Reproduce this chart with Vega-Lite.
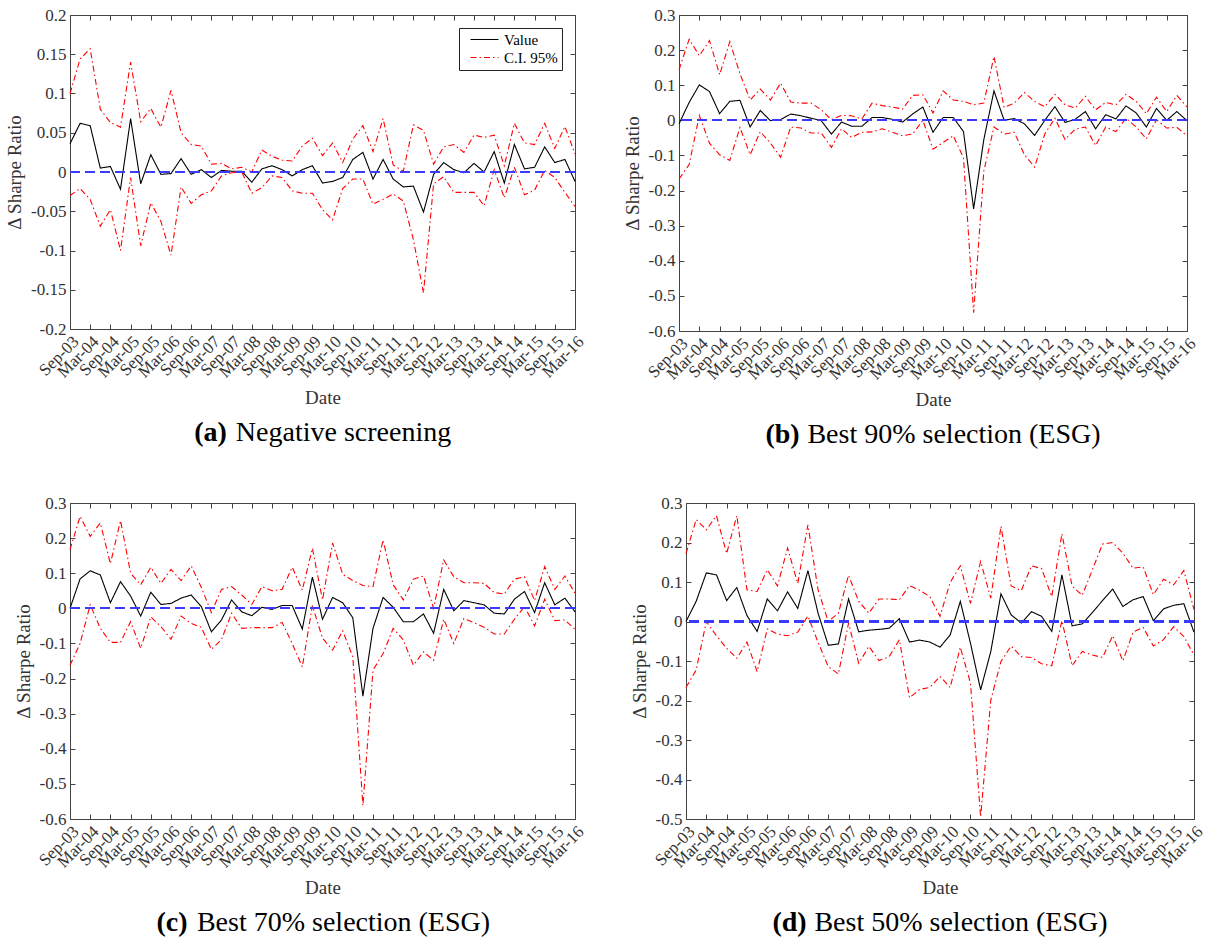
{
"$schema":"https://vega.github.io/schema/vega-lite/v6.json",
"background":"white",
"padding":{"left":5,"top":5,"right":5,"bottom":5},
"config":{
 "font":"Liberation Serif",
 "view":{"stroke":"#444","strokeWidth":1},
 "axis":{"labelFont":"Liberation Serif","labelFontSize":17,"labelColor":"#333","titleFont":"Liberation Serif","titleFontSize":19,"titleFontWeight":"normal","titleColor":"#333","domain":false,"grid":false,"ticks":true,"tickSize":-5,"tickColor":"#444","tickWidth":1,"labelPadding":9,"labelOverlap":false},
 "legend":{"labelFont":"Liberation Serif","labelFontSize":15,"labelColor":"black"},
 "title":{"font":"Liberation Serif","fontSize":28,"fontWeight":"bold","color":"black","orient":"bottom","anchor":"middle","offset":12,"subtitleFont":"Liberation Serif","subtitleFontSize":28,"subtitleFontWeight":"normal","subtitleColor":"black","subtitlePadding":-28}
},
"datasets":{"d":[
{"p":"a","t":"Sep-03","v":0.036,"hi":0.100,"lo":-0.030},
{"p":"a","t":"Dec-03","v":0.062,"hi":0.144,"lo":-0.021},
{"p":"a","t":"Mar-04","v":0.059,"hi":0.157,"lo":-0.035},
{"p":"a","t":"Jun-04","v":0.005,"hi":0.080,"lo":-0.069},
{"p":"a","t":"Sep-04","v":0.007,"hi":0.063,"lo":-0.048},
{"p":"a","t":"Dec-04","v":-0.022,"hi":0.057,"lo":-0.100},
{"p":"a","t":"Mar-05","v":0.068,"hi":0.140,"lo":-0.007},
{"p":"a","t":"Jun-05","v":-0.015,"hi":0.064,"lo":-0.094},
{"p":"a","t":"Sep-05","v":0.022,"hi":0.081,"lo":-0.039},
{"p":"a","t":"Dec-05","v":-0.003,"hi":0.057,"lo":-0.063},
{"p":"a","t":"Mar-06","v":-0.002,"hi":0.104,"lo":-0.106},
{"p":"a","t":"Jun-06","v":0.017,"hi":0.050,"lo":-0.019},
{"p":"a","t":"Sep-06","v":-0.003,"hi":0.035,"lo":-0.040},
{"p":"a","t":"Dec-06","v":0.003,"hi":0.033,"lo":-0.029},
{"p":"a","t":"Mar-07","v":-0.007,"hi":0.010,"lo":-0.024},
{"p":"a","t":"Jun-07","v":0.002,"hi":0.011,"lo":-0.005},
{"p":"a","t":"Sep-07","v":0.001,"hi":0.004,"lo":-0.001},
{"p":"a","t":"Dec-07","v":0.001,"hi":0.006,"lo":0.000},
{"p":"a","t":"Mar-08","v":-0.013,"hi":0.000,"lo":-0.027},
{"p":"a","t":"Jun-08","v":0.004,"hi":0.028,"lo":-0.020},
{"p":"a","t":"Sep-08","v":0.008,"hi":0.020,"lo":-0.005},
{"p":"a","t":"Dec-08","v":0.003,"hi":0.015,"lo":-0.007},
{"p":"a","t":"Mar-09","v":-0.005,"hi":0.014,"lo":-0.024},
{"p":"a","t":"Jun-09","v":0.003,"hi":0.033,"lo":-0.027},
{"p":"a","t":"Sep-09","v":0.008,"hi":0.043,"lo":-0.027},
{"p":"a","t":"Dec-09","v":-0.014,"hi":0.021,"lo":-0.048},
{"p":"a","t":"Mar-10","v":-0.012,"hi":0.037,"lo":-0.061},
{"p":"a","t":"Jun-10","v":-0.007,"hi":0.012,"lo":-0.021},
{"p":"a","t":"Sep-10","v":0.016,"hi":0.042,"lo":-0.009},
{"p":"a","t":"Dec-10","v":0.025,"hi":0.059,"lo":-0.009},
{"p":"a","t":"Mar-11","v":-0.009,"hi":0.026,"lo":-0.041},
{"p":"a","t":"Jun-11","v":0.016,"hi":0.068,"lo":-0.035},
{"p":"a","t":"Sep-11","v":-0.009,"hi":0.009,"lo":-0.028},
{"p":"a","t":"Dec-11","v":-0.019,"hi":0.001,"lo":-0.037},
{"p":"a","t":"Mar-12","v":-0.018,"hi":0.060,"lo":-0.086},
{"p":"a","t":"Jun-12","v":-0.051,"hi":0.053,"lo":-0.154},
{"p":"a","t":"Sep-12","v":-0.003,"hi":0.010,"lo":-0.015},
{"p":"a","t":"Dec-12","v":0.012,"hi":0.032,"lo":-0.006},
{"p":"a","t":"Mar-13","v":0.003,"hi":0.035,"lo":-0.026},
{"p":"a","t":"Jun-13","v":-0.001,"hi":0.025,"lo":-0.026},
{"p":"a","t":"Sep-13","v":0.011,"hi":0.047,"lo":-0.026},
{"p":"a","t":"Dec-13","v":0.000,"hi":0.044,"lo":-0.043},
{"p":"a","t":"Mar-14","v":0.026,"hi":0.047,"lo":0.003},
{"p":"a","t":"Jun-14","v":-0.014,"hi":0.008,"lo":-0.033},
{"p":"a","t":"Sep-14","v":0.035,"hi":0.062,"lo":0.006},
{"p":"a","t":"Dec-14","v":0.004,"hi":0.037,"lo":-0.029},
{"p":"a","t":"Mar-15","v":0.006,"hi":0.035,"lo":-0.023},
{"p":"a","t":"Jun-15","v":0.032,"hi":0.062,"lo":0.002},
{"p":"a","t":"Sep-15","v":0.012,"hi":0.030,"lo":-0.007},
{"p":"a","t":"Dec-15","v":0.016,"hi":0.058,"lo":-0.026},
{"p":"a","t":"Mar-16","v":-0.012,"hi":0.023,"lo":-0.044},
{"p":"b","t":"Sep-03","v":-0.010,"hi":0.144,"lo":-0.167},
{"p":"b","t":"Dec-03","v":0.051,"hi":0.231,"lo":-0.126},
{"p":"b","t":"Mar-04","v":0.101,"hi":0.184,"lo":0.014},
{"p":"b","t":"Jun-04","v":0.082,"hi":0.227,"lo":-0.065},
{"p":"b","t":"Sep-04","v":0.019,"hi":0.130,"lo":-0.098},
{"p":"b","t":"Dec-04","v":0.054,"hi":0.224,"lo":-0.114},
{"p":"b","t":"Mar-05","v":0.057,"hi":0.133,"lo":-0.020},
{"p":"b","t":"Jun-05","v":-0.019,"hi":0.058,"lo":-0.098},
{"p":"b","t":"Sep-05","v":0.028,"hi":0.089,"lo":-0.032},
{"p":"b","t":"Dec-05","v":-0.001,"hi":0.058,"lo":-0.065},
{"p":"b","t":"Mar-06","v":0.002,"hi":0.106,"lo":-0.105},
{"p":"b","t":"Jun-06","v":0.018,"hi":0.052,"lo":-0.019},
{"p":"b","t":"Sep-06","v":0.013,"hi":0.049,"lo":-0.022},
{"p":"b","t":"Dec-06","v":0.006,"hi":0.049,"lo":-0.036},
{"p":"b","t":"Mar-07","v":-0.001,"hi":0.030,"lo":-0.036},
{"p":"b","t":"Jun-07","v":-0.039,"hi":0.002,"lo":-0.077},
{"p":"b","t":"Sep-07","v":-0.005,"hi":0.014,"lo":-0.024},
{"p":"b","t":"Dec-07","v":-0.017,"hi":0.013,"lo":-0.049},
{"p":"b","t":"Mar-08","v":-0.017,"hi":0.004,"lo":-0.034},
{"p":"b","t":"Jun-08","v":0.008,"hi":0.049,"lo":-0.033},
{"p":"b","t":"Sep-08","v":0.008,"hi":0.042,"lo":-0.024},
{"p":"b","t":"Dec-08","v":0.003,"hi":0.038,"lo":-0.034},
{"p":"b","t":"Mar-09","v":-0.005,"hi":0.032,"lo":-0.044},
{"p":"b","t":"Jun-09","v":0.018,"hi":0.071,"lo":-0.039},
{"p":"b","t":"Sep-09","v":0.038,"hi":0.073,"lo":0.000},
{"p":"b","t":"Dec-09","v":-0.034,"hi":0.021,"lo":-0.082},
{"p":"b","t":"Mar-10","v":0.008,"hi":0.084,"lo":-0.063},
{"p":"b","t":"Jun-10","v":0.008,"hi":0.058,"lo":-0.044},
{"p":"b","t":"Sep-10","v":-0.032,"hi":0.054,"lo":-0.107},
{"p":"b","t":"Dec-10","v":-0.252,"hi":0.044,"lo":-0.548},
{"p":"b","t":"Mar-11","v":-0.055,"hi":0.049,"lo":-0.145},
{"p":"b","t":"Jun-11","v":0.084,"hi":0.182,"lo":-0.019},
{"p":"b","t":"Sep-11","v":0.000,"hi":0.037,"lo":-0.039},
{"p":"b","t":"Dec-11","v":0.005,"hi":0.049,"lo":-0.034},
{"p":"b","t":"Mar-12","v":-0.010,"hi":0.079,"lo":-0.098},
{"p":"b","t":"Jun-12","v":-0.043,"hi":0.054,"lo":-0.133},
{"p":"b","t":"Sep-12","v":0.000,"hi":0.039,"lo":-0.039},
{"p":"b","t":"Dec-12","v":0.039,"hi":0.074,"lo":0.006},
{"p":"b","t":"Mar-13","v":-0.006,"hi":0.044,"lo":-0.055},
{"p":"b","t":"Jun-13","v":0.003,"hi":0.035,"lo":-0.025},
{"p":"b","t":"Sep-13","v":0.025,"hi":0.068,"lo":-0.019},
{"p":"b","t":"Dec-13","v":-0.024,"hi":0.030,"lo":-0.072},
{"p":"b","t":"Mar-14","v":0.016,"hi":0.051,"lo":-0.019},
{"p":"b","t":"Jun-14","v":0.004,"hi":0.044,"lo":-0.032},
{"p":"b","t":"Sep-14","v":0.041,"hi":0.074,"lo":0.006},
{"p":"b","t":"Dec-14","v":0.021,"hi":0.054,"lo":-0.019},
{"p":"b","t":"Mar-15","v":-0.019,"hi":0.019,"lo":-0.053},
{"p":"b","t":"Jun-15","v":0.034,"hi":0.066,"lo":0.002},
{"p":"b","t":"Sep-15","v":0.000,"hi":0.025,"lo":-0.022},
{"p":"b","t":"Dec-15","v":0.025,"hi":0.071,"lo":-0.020},
{"p":"b","t":"Mar-16","v":-0.001,"hi":0.038,"lo":-0.044},
{"p":"c","t":"Sep-03","v":0.000,"hi":0.167,"lo":-0.162},
{"p":"c","t":"Dec-03","v":0.084,"hi":0.262,"lo":-0.100},
{"p":"c","t":"Mar-04","v":0.107,"hi":0.205,"lo":0.010},
{"p":"c","t":"Jun-04","v":0.095,"hi":0.243,"lo":-0.057},
{"p":"c","t":"Sep-04","v":0.016,"hi":0.127,"lo":-0.097},
{"p":"c","t":"Dec-04","v":0.076,"hi":0.250,"lo":-0.097},
{"p":"c","t":"Mar-05","v":0.035,"hi":0.100,"lo":-0.038},
{"p":"c","t":"Jun-05","v":-0.022,"hi":0.067,"lo":-0.114},
{"p":"c","t":"Sep-05","v":0.046,"hi":0.117,"lo":-0.024},
{"p":"c","t":"Dec-05","v":0.011,"hi":0.071,"lo":-0.052},
{"p":"c","t":"Mar-06","v":0.014,"hi":0.111,"lo":-0.088},
{"p":"c","t":"Jun-06","v":0.029,"hi":0.079,"lo":-0.022},
{"p":"c","t":"Sep-06","v":0.038,"hi":0.121,"lo":-0.043},
{"p":"c","t":"Dec-06","v":0.005,"hi":0.060,"lo":-0.054},
{"p":"c","t":"Mar-07","v":-0.067,"hi":-0.012,"lo":-0.117},
{"p":"c","t":"Jun-07","v":-0.033,"hi":0.054,"lo":-0.089},
{"p":"c","t":"Sep-07","v":0.024,"hi":0.062,"lo":-0.014},
{"p":"c","t":"Dec-07","v":-0.010,"hi":0.038,"lo":-0.057},
{"p":"c","t":"Mar-08","v":-0.021,"hi":0.011,"lo":-0.055},
{"p":"c","t":"Jun-08","v":0.003,"hi":0.062,"lo":-0.055},
{"p":"c","t":"Sep-08","v":-0.003,"hi":0.050,"lo":-0.055},
{"p":"c","t":"Dec-08","v":0.008,"hi":0.054,"lo":-0.040},
{"p":"c","t":"Mar-09","v":0.008,"hi":0.117,"lo":-0.100},
{"p":"c","t":"Jun-09","v":-0.059,"hi":0.052,"lo":-0.167},
{"p":"c","t":"Sep-09","v":0.089,"hi":0.171,"lo":0.008},
{"p":"c","t":"Dec-09","v":-0.031,"hi":0.024,"lo":-0.085},
{"p":"c","t":"Mar-10","v":0.031,"hi":0.186,"lo":-0.119},
{"p":"c","t":"Jun-10","v":0.016,"hi":0.097,"lo":-0.064},
{"p":"c","t":"Sep-10","v":-0.027,"hi":0.079,"lo":-0.138},
{"p":"c","t":"Dec-10","v":-0.250,"hi":0.065,"lo":-0.562},
{"p":"c","t":"Mar-11","v":-0.057,"hi":0.062,"lo":-0.176},
{"p":"c","t":"Jun-11","v":0.031,"hi":0.195,"lo":-0.129},
{"p":"c","t":"Sep-11","v":0.003,"hi":0.067,"lo":-0.057},
{"p":"c","t":"Dec-11","v":-0.038,"hi":0.024,"lo":-0.090},
{"p":"c","t":"Mar-12","v":-0.038,"hi":0.083,"lo":-0.162},
{"p":"c","t":"Jun-12","v":-0.016,"hi":0.092,"lo":-0.124},
{"p":"c","t":"Sep-12","v":-0.071,"hi":0.000,"lo":-0.148},
{"p":"c","t":"Dec-12","v":0.054,"hi":0.138,"lo":-0.031},
{"p":"c","t":"Mar-13","v":-0.007,"hi":0.090,"lo":-0.100},
{"p":"c","t":"Jun-13","v":0.022,"hi":0.073,"lo":-0.029},
{"p":"c","t":"Sep-13","v":0.016,"hi":0.073,"lo":-0.041},
{"p":"c","t":"Dec-13","v":0.010,"hi":0.071,"lo":-0.054},
{"p":"c","t":"Mar-14","v":-0.014,"hi":0.045,"lo":-0.073},
{"p":"c","t":"Jun-14","v":-0.016,"hi":0.041,"lo":-0.073},
{"p":"c","t":"Sep-14","v":0.026,"hi":0.083,"lo":-0.031},
{"p":"c","t":"Dec-14","v":0.048,"hi":0.090,"lo":0.005},
{"p":"c","t":"Mar-15","v":-0.012,"hi":0.022,"lo":-0.050},
{"p":"c","t":"Jun-15","v":0.073,"hi":0.119,"lo":0.026},
{"p":"c","t":"Sep-15","v":0.010,"hi":0.054,"lo":-0.035},
{"p":"c","t":"Dec-15","v":0.029,"hi":0.092,"lo":-0.033},
{"p":"c","t":"Mar-16","v":-0.010,"hi":0.043,"lo":-0.060},
{"p":"d","t":"Sep-03","v":0.000,"hi":0.172,"lo":-0.167},
{"p":"d","t":"Dec-03","v":0.051,"hi":0.258,"lo":-0.123},
{"p":"d","t":"Mar-04","v":0.123,"hi":0.232,"lo":0.000},
{"p":"d","t":"Jun-04","v":0.118,"hi":0.268,"lo":-0.036},
{"p":"d","t":"Sep-04","v":0.053,"hi":0.172,"lo":-0.068},
{"p":"d","t":"Dec-04","v":0.086,"hi":0.268,"lo":-0.093},
{"p":"d","t":"Mar-05","v":0.015,"hi":0.080,"lo":-0.052},
{"p":"d","t":"Jun-05","v":-0.025,"hi":0.076,"lo":-0.127},
{"p":"d","t":"Sep-05","v":0.057,"hi":0.131,"lo":-0.019},
{"p":"d","t":"Dec-05","v":0.027,"hi":0.090,"lo":-0.032},
{"p":"d","t":"Mar-06","v":0.075,"hi":0.186,"lo":-0.036},
{"p":"d","t":"Jun-06","v":0.033,"hi":0.096,"lo":-0.027},
{"p":"d","t":"Sep-06","v":0.129,"hi":0.245,"lo":0.014},
{"p":"d","t":"Dec-06","v":0.021,"hi":0.080,"lo":-0.053},
{"p":"d","t":"Mar-07","v":-0.060,"hi":0.000,"lo":-0.114},
{"p":"d","t":"Jun-07","v":-0.057,"hi":0.021,"lo":-0.133},
{"p":"d","t":"Sep-07","v":0.057,"hi":0.117,"lo":-0.004},
{"p":"d","t":"Dec-07","v":-0.026,"hi":0.051,"lo":-0.106},
{"p":"d","t":"Mar-08","v":-0.022,"hi":0.021,"lo":-0.063},
{"p":"d","t":"Jun-08","v":-0.020,"hi":0.057,"lo":-0.099},
{"p":"d","t":"Sep-08","v":-0.017,"hi":0.057,"lo":-0.089},
{"p":"d","t":"Dec-08","v":0.007,"hi":0.055,"lo":-0.046},
{"p":"d","t":"Mar-09","v":-0.052,"hi":0.091,"lo":-0.193},
{"p":"d","t":"Jun-09","v":-0.047,"hi":0.079,"lo":-0.172},
{"p":"d","t":"Sep-09","v":-0.052,"hi":0.063,"lo":-0.167},
{"p":"d","t":"Dec-09","v":-0.065,"hi":0.013,"lo":-0.139},
{"p":"d","t":"Mar-10","v":-0.034,"hi":0.099,"lo":-0.167},
{"p":"d","t":"Jun-10","v":0.051,"hi":0.141,"lo":-0.065},
{"p":"d","t":"Sep-10","v":-0.055,"hi":0.046,"lo":-0.156},
{"p":"d","t":"Dec-10","v":-0.173,"hi":0.152,"lo":-0.495},
{"p":"d","t":"Mar-11","v":-0.076,"hi":0.059,"lo":-0.199},
{"p":"d","t":"Jun-11","v":0.070,"hi":0.241,"lo":-0.101},
{"p":"d","t":"Sep-11","v":0.017,"hi":0.090,"lo":-0.062},
{"p":"d","t":"Dec-11","v":-0.004,"hi":0.078,"lo":-0.089},
{"p":"d","t":"Mar-12","v":0.025,"hi":0.141,"lo":-0.091},
{"p":"d","t":"Jun-12","v":0.013,"hi":0.134,"lo":-0.107},
{"p":"d","t":"Sep-12","v":-0.025,"hi":0.063,"lo":-0.112},
{"p":"d","t":"Dec-12","v":0.118,"hi":0.222,"lo":0.002},
{"p":"d","t":"Mar-13","v":-0.011,"hi":0.090,"lo":-0.112},
{"p":"d","t":"Jun-13","v":-0.006,"hi":0.066,"lo":-0.076},
{"p":"d","t":"Sep-13","v":0.023,"hi":0.131,"lo":-0.085},
{"p":"d","t":"Dec-13","v":0.053,"hi":0.196,"lo":-0.091},
{"p":"d","t":"Mar-14","v":0.082,"hi":0.200,"lo":-0.036},
{"p":"d","t":"Jun-14","v":0.038,"hi":0.173,"lo":-0.100},
{"p":"d","t":"Sep-14","v":0.055,"hi":0.135,"lo":-0.027},
{"p":"d","t":"Dec-14","v":0.063,"hi":0.138,"lo":-0.015},
{"p":"d","t":"Mar-15","v":0.002,"hi":0.068,"lo":-0.062},
{"p":"d","t":"Jun-15","v":0.032,"hi":0.107,"lo":-0.046},
{"p":"d","t":"Sep-15","v":0.041,"hi":0.093,"lo":-0.013},
{"p":"d","t":"Dec-15","v":0.045,"hi":0.129,"lo":-0.038},
{"p":"d","t":"Mar-16","v":-0.027,"hi":0.030,"lo":-0.085}
]},
"data":{"name":"d"},
"spacing":43,
"resolve":{"scale":{"color":"independent","strokeDash":"independent"},"legend":{"color":"independent","strokeDash":"independent"}},
"vconcat":[
{"hconcat":[
{"width":505,"height":314,
 "title":{"text":"(a)\u00a0\u00a0\u00a0\u00a0\u00a0\u00a0\u00a0\u00a0\u00a0\u00a0\u00a0\u00a0\u00a0\u00a0\u00a0\u00a0\u00a0\u00a0\u00a0\u00a0\u00a0\u00a0\u00a0\u00a0\u00a0\u00a0\u00a0\u00a0\u00a0\u00a0\u00a0\u00a0\u200b","subtitle":"\u200b\u00a0\u00a0\u00a0\u00a0\u00a0\u00a0Negative screening"},
 "layer":[
  {"transform":[{"filter":"datum.p=='a'"},{"fold":["v","hi","lo"],"as":["k","y"]},{"calculate":"datum.k=='v'?'Value':'C.I. 95%'","as":"s"}],
   "mark":{"type":"line","strokeWidth":1.1},
   "encoding":{
    "x":{"field":"t","type":"ordinal","scale":{"type":"point","padding":0,"domain":["Sep-03","Dec-03","Mar-04","Jun-04","Sep-04","Dec-04","Mar-05","Jun-05","Sep-05","Dec-05","Mar-06","Jun-06","Sep-06","Dec-06","Mar-07","Jun-07","Sep-07","Dec-07","Mar-08","Jun-08","Sep-08","Dec-08","Mar-09","Jun-09","Sep-09","Dec-09","Mar-10","Jun-10","Sep-10","Dec-10","Mar-11","Jun-11","Sep-11","Dec-11","Mar-12","Jun-12","Sep-12","Dec-12","Mar-13","Jun-13","Sep-13","Dec-13","Mar-14","Jun-14","Sep-14","Dec-14","Mar-15","Jun-15","Sep-15","Dec-15","Mar-16"]},
     "axis":{"values":["Sep-03","Mar-04","Sep-04","Mar-05","Sep-05","Mar-06","Sep-06","Mar-07","Sep-07","Mar-08","Sep-08","Mar-09","Sep-09","Mar-10","Sep-10","Mar-11","Sep-11","Mar-12","Sep-12","Mar-13","Sep-13","Mar-14","Sep-14","Mar-15","Sep-15","Mar-16"],"labelAngle":-45,"title":"Date","titlePadding":8}},
    "y":{"field":"y","type":"quantitative","scale":{"domain":[-0.2,0.2],"nice":false,"zero":false},"axis":{"values":[-0.2,-0.15,-0.1,-0.05,0,0.05,0.1,0.15,0.2],"labelExpr":"''+datum.value","title":"Δ Sharpe Ratio","titlePadding":6}},
    "color":{"field":"s","type":"nominal","scale":{"domain":["Value","C.I. 95%"],"range":["black","red"]},"legend":{"title":null,"orient":"top-right","offset":13,"strokeColor":"#222","fillColor":"white","padding":4,"symbolType":"M0,0H8","symbolSize":49,"symbolStrokeWidth":1.2,"rowPadding":2,"labelOffset":26}},
    "strokeDash":{"field":"s","type":"nominal","scale":{"domain":["Value","C.I. 95%"],"range":[[1,0],[6,3,1.5,3]]},"legend":{"title":null,"orient":"top-right","offset":13,"strokeColor":"#222","fillColor":"white","padding":4,"symbolType":"M0,0H8","symbolSize":49,"symbolStrokeWidth":1.2,"rowPadding":2,"labelOffset":26}},
    "detail":{"field":"k"}}},
  {"mark":{"type":"rule","color":"#3b3bff","strokeDash":[10,5],"strokeWidth":1.5,"opacity":0.75},"encoding":{"y":{"datum":0,"type":"quantitative","axis":null}}},
  {"transform":[{"filter":"datum.p=='a'"}],"mark":{"type":"point","opacity":0},
   "encoding":{
    "x":{"field":"t","type":"ordinal","scale":{"type":"point","padding":0,"domain":["Sep-03","Dec-03","Mar-04","Jun-04","Sep-04","Dec-04","Mar-05","Jun-05","Sep-05","Dec-05","Mar-06","Jun-06","Sep-06","Dec-06","Mar-07","Jun-07","Sep-07","Dec-07","Mar-08","Jun-08","Sep-08","Dec-08","Mar-09","Jun-09","Sep-09","Dec-09","Mar-10","Jun-10","Sep-10","Dec-10","Mar-11","Jun-11","Sep-11","Dec-11","Mar-12","Jun-12","Sep-12","Dec-12","Mar-13","Jun-13","Sep-13","Dec-13","Mar-14","Jun-14","Sep-14","Dec-14","Mar-15","Jun-15","Sep-15","Dec-15","Mar-16"]},"axis":{"orient":"top","values":["Sep-03","Mar-04","Sep-04","Mar-05","Sep-05","Mar-06","Sep-06","Mar-07","Sep-07","Mar-08","Sep-08","Mar-09","Sep-09","Mar-10","Sep-10","Mar-11","Sep-11","Mar-12","Sep-12","Mar-13","Sep-13","Mar-14","Sep-14","Mar-15","Sep-15","Mar-16"],"labels":false,"title":null}},
    "y":{"field":"v","type":"quantitative","scale":{"domain":[-0.2,0.2],"nice":false,"zero":false},"axis":{"orient":"right","values":[-0.2,-0.15,-0.1,-0.05,0,0.05,0.1,0.15,0.2],"labels":false,"title":null}}}}
 ],
 "resolve":{"axis":{"x":"independent","y":"independent"}}},
{"width":508,"height":316,
 "title":{"text":"(b)\u00a0\u00a0\u00a0\u00a0\u00a0\u00a0\u00a0\u00a0\u00a0\u00a0\u00a0\u00a0\u00a0\u00a0\u00a0\u00a0\u00a0\u00a0\u00a0\u00a0\u00a0\u00a0\u00a0\u00a0\u00a0\u00a0\u00a0\u00a0\u00a0\u00a0\u00a0\u00a0\u00a0\u00a0\u00a0\u00a0\u00a0\u00a0\u00a0\u00a0\u00a0\u00a0\u00a0\u200b","subtitle":"\u200b\u00a0\u00a0\u00a0\u00a0\u00a0\u00a0Best 90% selection (ESG)"},
 "layer":[
  {"transform":[{"filter":"datum.p=='b'"},{"fold":["v","hi","lo"],"as":["k","y"]},{"calculate":"datum.k=='v'?'Value':'C.I. 95%'","as":"s"}],
   "mark":{"type":"line","strokeWidth":1.1},
   "encoding":{
    "x":{"field":"t","type":"ordinal","scale":{"type":"point","padding":0,"domain":["Sep-03","Dec-03","Mar-04","Jun-04","Sep-04","Dec-04","Mar-05","Jun-05","Sep-05","Dec-05","Mar-06","Jun-06","Sep-06","Dec-06","Mar-07","Jun-07","Sep-07","Dec-07","Mar-08","Jun-08","Sep-08","Dec-08","Mar-09","Jun-09","Sep-09","Dec-09","Mar-10","Jun-10","Sep-10","Dec-10","Mar-11","Jun-11","Sep-11","Dec-11","Mar-12","Jun-12","Sep-12","Dec-12","Mar-13","Jun-13","Sep-13","Dec-13","Mar-14","Jun-14","Sep-14","Dec-14","Mar-15","Jun-15","Sep-15","Dec-15","Mar-16"]},
     "axis":{"values":["Sep-03","Mar-04","Sep-04","Mar-05","Sep-05","Mar-06","Sep-06","Mar-07","Sep-07","Mar-08","Sep-08","Mar-09","Sep-09","Mar-10","Sep-10","Mar-11","Sep-11","Mar-12","Sep-12","Mar-13","Sep-13","Mar-14","Sep-14","Mar-15","Sep-15","Mar-16"],"labelAngle":-45,"title":"Date","titlePadding":8}},
    "y":{"field":"y","type":"quantitative","scale":{"domain":[-0.6,0.3],"nice":false,"zero":false},"axis":{"values":[-0.6,-0.5,-0.4,-0.3,-0.2,-0.1,0,0.1,0.2,0.3],"labelExpr":"''+datum.value","title":"Δ Sharpe Ratio","titlePadding":6}},
    "color":{"field":"s","type":"nominal","scale":{"domain":["Value","C.I. 95%"],"range":["black","red"]},"legend":null},
    "strokeDash":{"field":"s","type":"nominal","scale":{"domain":["Value","C.I. 95%"],"range":[[1,0],[6,3,1.5,3]]},"legend":null},
    "detail":{"field":"k"}}},
  {"mark":{"type":"rule","color":"#3b3bff","strokeDash":[10,5],"strokeWidth":1.5,"opacity":0.75},"encoding":{"y":{"datum":0,"type":"quantitative","axis":null}}},
  {"transform":[{"filter":"datum.p=='b'"}],"mark":{"type":"point","opacity":0},
   "encoding":{
    "x":{"field":"t","type":"ordinal","scale":{"type":"point","padding":0,"domain":["Sep-03","Dec-03","Mar-04","Jun-04","Sep-04","Dec-04","Mar-05","Jun-05","Sep-05","Dec-05","Mar-06","Jun-06","Sep-06","Dec-06","Mar-07","Jun-07","Sep-07","Dec-07","Mar-08","Jun-08","Sep-08","Dec-08","Mar-09","Jun-09","Sep-09","Dec-09","Mar-10","Jun-10","Sep-10","Dec-10","Mar-11","Jun-11","Sep-11","Dec-11","Mar-12","Jun-12","Sep-12","Dec-12","Mar-13","Jun-13","Sep-13","Dec-13","Mar-14","Jun-14","Sep-14","Dec-14","Mar-15","Jun-15","Sep-15","Dec-15","Mar-16"]},"axis":{"orient":"top","values":["Sep-03","Mar-04","Sep-04","Mar-05","Sep-05","Mar-06","Sep-06","Mar-07","Sep-07","Mar-08","Sep-08","Mar-09","Sep-09","Mar-10","Sep-10","Mar-11","Sep-11","Mar-12","Sep-12","Mar-13","Sep-13","Mar-14","Sep-14","Mar-15","Sep-15","Mar-16"],"labels":false,"title":null}},
    "y":{"field":"v","type":"quantitative","scale":{"domain":[-0.6,0.3],"nice":false,"zero":false},"axis":{"orient":"right","values":[-0.6,-0.5,-0.4,-0.3,-0.2,-0.1,0,0.1,0.2,0.3],"labels":false,"title":null}}}}
 ],
 "resolve":{"axis":{"x":"independent","y":"independent"}}}
],"spacing":35,"resolve":{"scale":{"color":"independent","strokeDash":"independent"},"legend":{"color":"independent","strokeDash":"independent"}}},
{"hconcat":[
{"width":505,"height":316,
 "title":{"text":"(c)\u00a0\u00a0\u00a0\u00a0\u00a0\u00a0\u00a0\u00a0\u00a0\u00a0\u00a0\u00a0\u00a0\u00a0\u00a0\u00a0\u00a0\u00a0\u00a0\u00a0\u00a0\u00a0\u00a0\u00a0\u00a0\u00a0\u00a0\u00a0\u00a0\u00a0\u00a0\u00a0\u00a0\u00a0\u00a0\u00a0\u00a0\u00a0\u00a0\u00a0\u00a0\u00a0\u00a0\u200b","subtitle":"\u200b\u00a0\u00a0\u00a0\u00a0\u00a0\u00a0Best 70% selection (ESG)"},
 "layer":[
  {"transform":[{"filter":"datum.p=='c'"},{"fold":["v","hi","lo"],"as":["k","y"]},{"calculate":"datum.k=='v'?'Value':'C.I. 95%'","as":"s"}],
   "mark":{"type":"line","strokeWidth":1.1},
   "encoding":{
    "x":{"field":"t","type":"ordinal","scale":{"type":"point","padding":0,"domain":["Sep-03","Dec-03","Mar-04","Jun-04","Sep-04","Dec-04","Mar-05","Jun-05","Sep-05","Dec-05","Mar-06","Jun-06","Sep-06","Dec-06","Mar-07","Jun-07","Sep-07","Dec-07","Mar-08","Jun-08","Sep-08","Dec-08","Mar-09","Jun-09","Sep-09","Dec-09","Mar-10","Jun-10","Sep-10","Dec-10","Mar-11","Jun-11","Sep-11","Dec-11","Mar-12","Jun-12","Sep-12","Dec-12","Mar-13","Jun-13","Sep-13","Dec-13","Mar-14","Jun-14","Sep-14","Dec-14","Mar-15","Jun-15","Sep-15","Dec-15","Mar-16"]},
     "axis":{"values":["Sep-03","Mar-04","Sep-04","Mar-05","Sep-05","Mar-06","Sep-06","Mar-07","Sep-07","Mar-08","Sep-08","Mar-09","Sep-09","Mar-10","Sep-10","Mar-11","Sep-11","Mar-12","Sep-12","Mar-13","Sep-13","Mar-14","Sep-14","Mar-15","Sep-15","Mar-16"],"labelAngle":-45,"title":"Date","titlePadding":8}},
    "y":{"field":"y","type":"quantitative","scale":{"domain":[-0.6,0.3],"nice":false,"zero":false},"axis":{"values":[-0.6,-0.5,-0.4,-0.3,-0.2,-0.1,0,0.1,0.2,0.3],"labelExpr":"''+datum.value","title":"Δ Sharpe Ratio","titlePadding":6}},
    "color":{"field":"s","type":"nominal","scale":{"domain":["Value","C.I. 95%"],"range":["black","red"]},"legend":null},
    "strokeDash":{"field":"s","type":"nominal","scale":{"domain":["Value","C.I. 95%"],"range":[[1,0],[6,3,1.5,3]]},"legend":null},
    "detail":{"field":"k"}}},
  {"mark":{"type":"rule","color":"#3b3bff","strokeDash":[10,5],"strokeWidth":1.5,"opacity":0.75},"encoding":{"y":{"datum":0,"type":"quantitative","axis":null}}},
  {"transform":[{"filter":"datum.p=='c'"}],"mark":{"type":"point","opacity":0},
   "encoding":{
    "x":{"field":"t","type":"ordinal","scale":{"type":"point","padding":0,"domain":["Sep-03","Dec-03","Mar-04","Jun-04","Sep-04","Dec-04","Mar-05","Jun-05","Sep-05","Dec-05","Mar-06","Jun-06","Sep-06","Dec-06","Mar-07","Jun-07","Sep-07","Dec-07","Mar-08","Jun-08","Sep-08","Dec-08","Mar-09","Jun-09","Sep-09","Dec-09","Mar-10","Jun-10","Sep-10","Dec-10","Mar-11","Jun-11","Sep-11","Dec-11","Mar-12","Jun-12","Sep-12","Dec-12","Mar-13","Jun-13","Sep-13","Dec-13","Mar-14","Jun-14","Sep-14","Dec-14","Mar-15","Jun-15","Sep-15","Dec-15","Mar-16"]},"axis":{"orient":"top","values":["Sep-03","Mar-04","Sep-04","Mar-05","Sep-05","Mar-06","Sep-06","Mar-07","Sep-07","Mar-08","Sep-08","Mar-09","Sep-09","Mar-10","Sep-10","Mar-11","Sep-11","Mar-12","Sep-12","Mar-13","Sep-13","Mar-14","Sep-14","Mar-15","Sep-15","Mar-16"],"labels":false,"title":null}},
    "y":{"field":"v","type":"quantitative","scale":{"domain":[-0.6,0.3],"nice":false,"zero":false},"axis":{"orient":"right","values":[-0.6,-0.5,-0.4,-0.3,-0.2,-0.1,0,0.1,0.2,0.3],"labels":false,"title":null}}}}
 ],
 "resolve":{"axis":{"x":"independent","y":"independent"}}},
{"width":508,"height":316,
 "title":{"text":"(d)\u00a0\u00a0\u00a0\u00a0\u00a0\u00a0\u00a0\u00a0\u00a0\u00a0\u00a0\u00a0\u00a0\u00a0\u00a0\u00a0\u00a0\u00a0\u00a0\u00a0\u00a0\u00a0\u00a0\u00a0\u00a0\u00a0\u00a0\u00a0\u00a0\u00a0\u00a0\u00a0\u00a0\u00a0\u00a0\u00a0\u00a0\u00a0\u00a0\u00a0\u00a0\u00a0\u00a0\u200b","subtitle":"\u200b\u00a0\u00a0\u00a0\u00a0\u00a0\u00a0Best 50% selection (ESG)"},
 "layer":[
  {"transform":[{"filter":"datum.p=='d'"},{"fold":["v","hi","lo"],"as":["k","y"]},{"calculate":"datum.k=='v'?'Value':'C.I. 95%'","as":"s"}],
   "mark":{"type":"line","strokeWidth":1.1},
   "encoding":{
    "x":{"field":"t","type":"ordinal","scale":{"type":"point","padding":0,"domain":["Sep-03","Dec-03","Mar-04","Jun-04","Sep-04","Dec-04","Mar-05","Jun-05","Sep-05","Dec-05","Mar-06","Jun-06","Sep-06","Dec-06","Mar-07","Jun-07","Sep-07","Dec-07","Mar-08","Jun-08","Sep-08","Dec-08","Mar-09","Jun-09","Sep-09","Dec-09","Mar-10","Jun-10","Sep-10","Dec-10","Mar-11","Jun-11","Sep-11","Dec-11","Mar-12","Jun-12","Sep-12","Dec-12","Mar-13","Jun-13","Sep-13","Dec-13","Mar-14","Jun-14","Sep-14","Dec-14","Mar-15","Jun-15","Sep-15","Dec-15","Mar-16"]},
     "axis":{"values":["Sep-03","Mar-04","Sep-04","Mar-05","Sep-05","Mar-06","Sep-06","Mar-07","Sep-07","Mar-08","Sep-08","Mar-09","Sep-09","Mar-10","Sep-10","Mar-11","Sep-11","Mar-12","Sep-12","Mar-13","Sep-13","Mar-14","Sep-14","Mar-15","Sep-15","Mar-16"],"labelAngle":-45,"title":"Date","titlePadding":8}},
    "y":{"field":"y","type":"quantitative","scale":{"domain":[-0.5,0.3],"nice":false,"zero":false},"axis":{"values":[-0.5,-0.4,-0.3,-0.2,-0.1,0,0.1,0.2,0.3],"labelExpr":"''+datum.value","title":"Δ Sharpe Ratio","titlePadding":6}},
    "color":{"field":"s","type":"nominal","scale":{"domain":["Value","C.I. 95%"],"range":["black","red"]},"legend":null},
    "strokeDash":{"field":"s","type":"nominal","scale":{"domain":["Value","C.I. 95%"],"range":[[1,0],[6,3,1.5,3]]},"legend":null},
    "detail":{"field":"k"}}},
  {"mark":{"type":"rule","color":"#3b3bff","strokeDash":[10,5],"strokeWidth":1.5,"opacity":0.75},"encoding":{"y":{"datum":0,"type":"quantitative","axis":null}}},
  {"transform":[{"filter":"datum.p=='d'"}],"mark":{"type":"point","opacity":0},
   "encoding":{
    "x":{"field":"t","type":"ordinal","scale":{"type":"point","padding":0,"domain":["Sep-03","Dec-03","Mar-04","Jun-04","Sep-04","Dec-04","Mar-05","Jun-05","Sep-05","Dec-05","Mar-06","Jun-06","Sep-06","Dec-06","Mar-07","Jun-07","Sep-07","Dec-07","Mar-08","Jun-08","Sep-08","Dec-08","Mar-09","Jun-09","Sep-09","Dec-09","Mar-10","Jun-10","Sep-10","Dec-10","Mar-11","Jun-11","Sep-11","Dec-11","Mar-12","Jun-12","Sep-12","Dec-12","Mar-13","Jun-13","Sep-13","Dec-13","Mar-14","Jun-14","Sep-14","Dec-14","Mar-15","Jun-15","Sep-15","Dec-15","Mar-16"]},"axis":{"orient":"top","values":["Sep-03","Mar-04","Sep-04","Mar-05","Sep-05","Mar-06","Sep-06","Mar-07","Sep-07","Mar-08","Sep-08","Mar-09","Sep-09","Mar-10","Sep-10","Mar-11","Sep-11","Mar-12","Sep-12","Mar-13","Sep-13","Mar-14","Sep-14","Mar-15","Sep-15","Mar-16"],"labels":false,"title":null}},
    "y":{"field":"v","type":"quantitative","scale":{"domain":[-0.5,0.3],"nice":false,"zero":false},"axis":{"orient":"right","values":[-0.5,-0.4,-0.3,-0.2,-0.1,0,0.1,0.2,0.3],"labels":false,"title":null}}}}
 ],
 "resolve":{"axis":{"x":"independent","y":"independent"}}}
],"spacing":42,"resolve":{"scale":{"color":"independent","strokeDash":"independent"},"legend":{"color":"independent","strokeDash":"independent"}}}
]
}
